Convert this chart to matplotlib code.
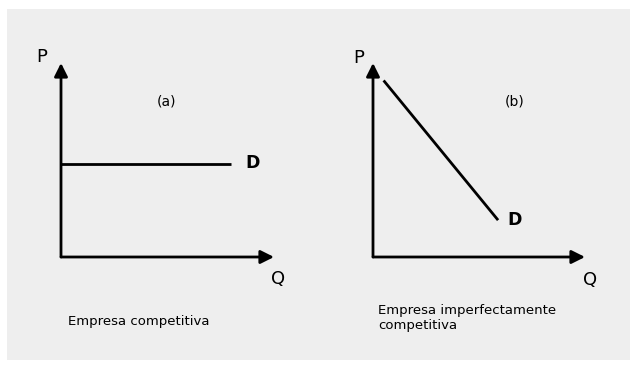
import matplotlib
matplotlib.use("Agg")
import matplotlib.pyplot as plt
from matplotlib.patches import Rectangle

# ---- data ----
axis_max = 10
demand_a_q = [0.0, 8.0]
demand_a_p = [4.8, 4.8]
demand_b_q = [0.5, 5.9]
demand_b_p = [9.1, 1.9]
panel_labels = ["(a)", "(b)"]
captions = ["Empresa competitiva", "Empresa imperfectamente\ncompetitiva"]

W, H = 636, 369
fig = plt.figure(figsize=(W / 100, H / 100), dpi=100, facecolor="white")
plt.rcParams['font.family'] = ['DejaVu Sans']

# gray panel background
fig.patches.append(Rectangle((7 / W, 1 - 360 / H), (630 - 7) / W, (360 - 9) / H,
                             transform=fig.transFigure, facecolor="#eeeeee",
                             edgecolor="none", zorder=-10))


def make_axes(x0, x1, y0, y1):
    ax = fig.add_axes([x0 / W, 1 - y0 / H, (x1 - x0) / W, (y0 - y1) / H])
    ax.set_zorder(1)
    ax.set_xlim(0, axis_max)
    ax.set_ylim(0, axis_max)
    ax.axis("off")
    ax.patch.set_alpha(0)
    arrow = dict(arrowstyle="-|>,head_length=0.8,head_width=0.4", lw=2.0,
                 color="black", mutation_scale=10, shrinkA=0, shrinkB=0)
    ax.annotate("", xy=(axis_max, 0), xytext=(0, 0), arrowprops=arrow,
                annotation_clip=False)
    ax.annotate("", xy=(0, axis_max), xytext=(0, 0), arrowprops=arrow,
                annotation_clip=False)
    return ax


axA = make_axes(61, 274, 257, 63)
axB = make_axes(373, 585, 257, 63)

axA.plot(demand_a_q, demand_a_p, color="black", lw=2.0, solid_capstyle="butt",
         clip_on=False)
axB.plot(demand_b_q, demand_b_p, color="black", lw=2.0, solid_capstyle="butt",
         clip_on=False)

label_size = 13
# panel a texts
axA.text(-0.92, 10.3, "P", fontsize=label_size, ha="center", va="center")
axA.text(10.19, -1.13, "Q", fontsize=label_size, ha="center", va="center")
axA.text(9.01, 4.85, "D", fontsize=12.5, fontweight="bold", ha="center", va="center")
axA.text(4.93, 8.04, panel_labels[0], fontsize=10, ha="center", va="center")
axA.text(0.33, -3.3, captions[0], fontsize=9.5, ha="left", va="center")

# panel b texts
axB.text(-0.68, 10.26, "P", fontsize=label_size, ha="center", va="center")
axB.text(10.24, -1.19, "Q", fontsize=label_size, ha="center", va="center")
axB.text(6.7, 1.9, "D", fontsize=12.5, fontweight="bold", ha="center", va="center")
axB.text(6.67, 8.04, panel_labels[1], fontsize=10, ha="center", va="center")
axB.text(0.24, -3.12, captions[1], fontsize=9.5, ha="left", va="center",
         linespacing=1.2)

fig.savefig("out.png", dpi=100, facecolor="white")
